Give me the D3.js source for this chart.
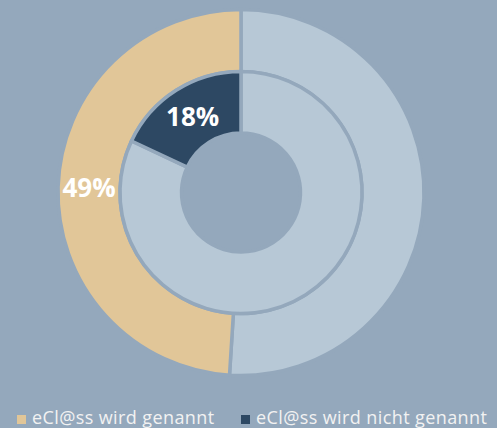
<!DOCTYPE html>
<html><head><meta charset="utf-8">
<script src="https://cdn.jsdelivr.net/npm/d3@7"></script>
<style>
html,body{margin:0;padding:0;background:#94a8bc;}
svg{display:block;}
</style></head>
<body>
<svg id="chart" width="497" height="428"></svg>
<script>
const categories = ["eCl@ss wird genannt", "eCl@ss wird nicht genannt"];
const outerValues = [51, 49];   // [rest, genannt]
const outerLabels = [null, "49%"];
const innerValues = [82, 18];   // [rest, nicht genannt]
const innerLabels = [null, "18%"];

const bg = "#94a8bc";
const light = "#b7c8d6";
const tan = "#e1c698";
const navy = "#2d4863";

const svg = d3.select("#chart");
const cx = 241, cy = 192.5;
const g = svg.append("g").attr("transform", `translate(${cx},${cy})`);

const pie = d3.pie().sort(null).value(d => d);

const outerArc = d3.arc().innerRadius(121).outerRadius(183);
const innerArc = d3.arc().innerRadius(59.5).outerRadius(121);

const outerColors = [light, tan];
const innerColors = [light, navy];

g.selectAll("path.outer").data(pie(outerValues)).join("path")
  .attr("class", "outer")
  .attr("d", outerArc)
  .attr("fill", (d, i) => outerColors[i])
  .attr("stroke", bg).attr("stroke-width", 3.5).attr("stroke-linejoin", "miter");

g.selectAll("path.inner").data(pie(innerValues)).join("path")
  .attr("class", "inner")
  .attr("d", innerArc)
  .attr("fill", (d, i) => innerColors[i])
  .attr("stroke", bg).attr("stroke-width", 3.5).attr("stroke-linejoin", "miter");

const labelFont = "'Open Sans', 'DejaVu Sans', sans-serif";

g.selectAll("text.olab").data(pie(outerValues)).join("text")
  .filter((d, i) => outerLabels[i])
  .attr("class", "olab")
  .attr("transform", d => `translate(${outerArc.centroid(d)})`)
  .attr("text-anchor", "middle").attr("dy", "0.36em")
  .attr("fill", "#ffffff").attr("font-family", labelFont)
  .attr("font-weight", "bold").attr("font-size", 26)
  .text((d) => outerLabels[d.index]);

g.selectAll("text.ilab").data(pie(innerValues)).join("text")
  .filter((d, i) => innerLabels[i])
  .attr("class", "ilab")
  .attr("transform", d => `translate(${innerArc.centroid(d)})`)
  .attr("text-anchor", "middle").attr("dy", "0.36em")
  .attr("fill", "#ffffff").attr("font-family", labelFont)
  .attr("font-weight", "bold").attr("font-size", 26)
  .text((d) => innerLabels[d.index]);

// legend
const legendColors = [tan, navy];
const legendX = [17, 241];
const legend = svg.append("g");
categories.forEach((c, i) => {
  legend.append("rect")
    .attr("x", legendX[i]).attr("y", 415)
    .attr("width", 9).attr("height", 9)
    .attr("fill", legendColors[i]);
  legend.append("text")
    .attr("x", legendX[i] + 15).attr("y", 424)
    .attr("fill", "#f2f2f2")
    .attr("font-family", labelFont)
    .attr("font-size", 18)
    .attr("letter-spacing", 0.4)
    .text(c);
});
</script>
</body></html>
